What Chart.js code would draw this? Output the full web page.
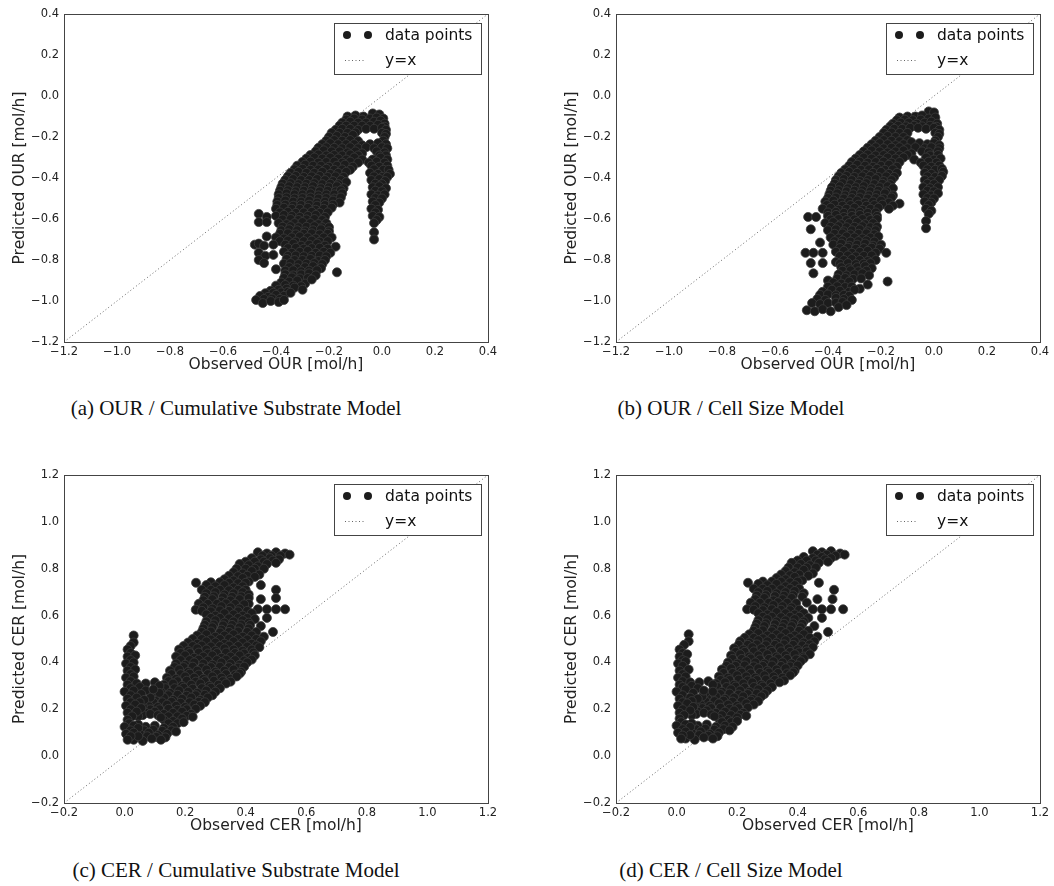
<!DOCTYPE html>
<html>
<head>
<meta charset="utf-8">
<title>Observed vs predicted OUR / CER</title>
<script src="https://cdn.jsdelivr.net/npm/chart.js@4"></script>
<style>
body { margin: 0; background: #fff; width: 1054px; height: 886px; position: relative; overflow: hidden; }
.panel { position: absolute; width: 527px; height: 380px; }
.caption { position: absolute; font-family: 'Liberation Serif', 'DejaVu Serif', serif; font-size: 21px; color: #111;
  transform: translateX(-50%); white-space: nowrap; line-height: 22px; }
</style>
</head>
<body>
<div class="panel" style="left:0;top:0"><canvas id="chartA" width="527" height="380"></canvas></div>
<div class="panel" style="left:552px;top:0"><canvas id="chartB" width="527" height="380"></canvas></div>
<div class="panel" style="left:0;top:461px"><canvas id="chartC" width="527" height="380"></canvas></div>
<div class="panel" style="left:552px;top:461px"><canvas id="chartD" width="527" height="380"></canvas></div>
<div class="caption" style="left:236px;top:397px">(a) OUR / Cumulative Substrate Model</div>
<div class="caption" style="left:731px;top:397px">(b) OUR / Cell Size Model</div>
<div class="caption" style="left:236px;top:859px">(c) CER / Cumulative Substrate Model</div>
<div class="caption" style="left:731px;top:859px">(d) CER / Cell Size Model</div>
<script>
// axis limits
const ourLimits = [-1.2, 0.4];
const cerLimits = [-0.2, 1.2];
const tickStep = 0.2;

// [observed, predicted] OUR, cumulative substrate model
const ourCumulative = [
	[-0.13,-0.10],[-0.10,-0.095],[-0.07,-0.10],[-0.035,-0.085],[-0.01,-0.09],
	[-0.135,-0.115],[-0.105,-0.11],[-0.075,-0.115],[-0.045,-0.11],[-0.02,-0.105],[0.005,-0.11],
	[-0.15,-0.13],[-0.12,-0.125],[-0.09,-0.13],[-0.06,-0.13],[-0.03,-0.125],[-0.005,-0.12],[0.01,-0.135],
	[-0.16,-0.145],[-0.135,-0.145],[-0.105,-0.145],[-0.075,-0.145],[-0.045,-0.145],[-0.015,-0.14],[0.01,-0.15],
	[-0.175,-0.165],[-0.15,-0.16],[-0.12,-0.16],[-0.09,-0.165],[-0.06,-0.16],[-0.03,-0.16],[0.0,-0.155],[0.015,-0.165],
	[-0.19,-0.18],[-0.16,-0.18],[-0.13,-0.18],[-0.10,-0.178],[0.0,-0.18],[0.015,-0.185],
	[-0.20,-0.20],[-0.17,-0.195],[-0.14,-0.20],[-0.11,-0.19],[0.01,-0.20],
	[-0.21,-0.218],[-0.18,-0.215],[-0.15,-0.218],[-0.12,-0.215],[-0.09,-0.22],[0.005,-0.218],
	[-0.225,-0.235],[-0.195,-0.23],[-0.165,-0.235],[-0.135,-0.235],[-0.105,-0.235],[-0.075,-0.24],[-0.045,-0.235],[-0.015,-0.23],[0.015,-0.235],
	[-0.24,-0.253],[-0.21,-0.25],[-0.18,-0.253],[-0.15,-0.255],[-0.12,-0.25],[-0.09,-0.255],[-0.06,-0.25],[-0.03,-0.255],[0.0,-0.25],[0.02,-0.255],
	[-0.25,-0.27],[-0.22,-0.265],[-0.19,-0.27],[-0.16,-0.27],[-0.13,-0.275],[-0.10,-0.27],[-0.075,-0.28],[-0.02,-0.27],[0.01,-0.275],
	[-0.27,-0.288],[-0.24,-0.285],[-0.21,-0.29],[-0.18,-0.288],[-0.15,-0.29],[-0.12,-0.285],[-0.09,-0.29],[-0.01,-0.29],[0.015,-0.29],
	[-0.285,-0.305],[-0.255,-0.30],[-0.225,-0.305],[-0.195,-0.30],[-0.165,-0.305],[-0.135,-0.31],[-0.105,-0.30],[-0.075,-0.31],[-0.035,-0.31],[-0.005,-0.30],[0.02,-0.31],
	[-0.30,-0.322],[-0.27,-0.32],[-0.24,-0.325],[-0.21,-0.322],[-0.18,-0.32],[-0.15,-0.325],[-0.12,-0.32],[-0.09,-0.325],[-0.05,-0.325],[-0.02,-0.32],[0.01,-0.325],
	[-0.32,-0.34],[-0.29,-0.335],[-0.26,-0.34],[-0.23,-0.34],[-0.20,-0.345],[-0.17,-0.34],[-0.14,-0.335],[-0.11,-0.345],[-0.04,-0.34],[-0.01,-0.345],[0.02,-0.34],
	[-0.33,-0.358],[-0.30,-0.355],[-0.27,-0.36],[-0.24,-0.358],[-0.21,-0.355],[-0.18,-0.36],[-0.15,-0.358],[-0.12,-0.36],[-0.03,-0.358],[0.005,-0.36],[0.025,-0.36],
	[-0.345,-0.375],[-0.315,-0.37],[-0.285,-0.375],[-0.255,-0.375],[-0.225,-0.37],[-0.195,-0.38],[-0.165,-0.375],[-0.135,-0.37],[-0.045,-0.375],[-0.015,-0.38],[0.03,-0.38],
	[-0.355,-0.392],[-0.325,-0.39],[-0.295,-0.395],[-0.265,-0.392],[-0.235,-0.39],[-0.205,-0.395],[-0.175,-0.392],[-0.145,-0.395],[-0.03,-0.392],[0.0,-0.395],[0.02,-0.395],
	[-0.365,-0.41],[-0.335,-0.405],[-0.305,-0.41],[-0.275,-0.41],[-0.245,-0.405],[-0.215,-0.41],[-0.185,-0.415],[-0.155,-0.41],[-0.135,-0.42],[-0.04,-0.41],[-0.01,-0.405],[0.012,-0.415],
	[-0.375,-0.428],[-0.345,-0.425],[-0.315,-0.43],[-0.285,-0.428],[-0.255,-0.425],[-0.225,-0.43],[-0.195,-0.428],[-0.165,-0.43],[-0.025,-0.428],[0.0,-0.43],
	[-0.38,-0.445],[-0.35,-0.44],[-0.32,-0.445],[-0.29,-0.445],[-0.26,-0.44],[-0.23,-0.45],[-0.20,-0.445],[-0.17,-0.44],[-0.145,-0.45],[-0.035,-0.445],[-0.01,-0.44],[0.015,-0.45],
	[-0.385,-0.462],[-0.355,-0.46],[-0.325,-0.465],[-0.295,-0.462],[-0.265,-0.46],[-0.235,-0.465],[-0.205,-0.462],[-0.175,-0.465],[-0.155,-0.46],[-0.025,-0.462],[0.0,-0.465],
	[-0.39,-0.48],[-0.36,-0.475],[-0.33,-0.48],[-0.30,-0.48],[-0.27,-0.475],[-0.24,-0.485],[-0.21,-0.48],[-0.18,-0.48],[-0.15,-0.475],[-0.04,-0.48],[-0.015,-0.485],[0.01,-0.48],
	[-0.39,-0.498],[-0.36,-0.495],[-0.33,-0.5],[-0.30,-0.498],[-0.27,-0.495],[-0.24,-0.5],[-0.21,-0.498],[-0.18,-0.5],[-0.155,-0.495],[-0.025,-0.498],[0.0,-0.5],
	[-0.395,-0.515],[-0.365,-0.51],[-0.335,-0.515],[-0.305,-0.515],[-0.275,-0.51],[-0.245,-0.52],[-0.215,-0.515],[-0.185,-0.51],[-0.16,-0.52],[-0.035,-0.515],[-0.01,-0.52],
	[-0.395,-0.532],[-0.365,-0.53],[-0.335,-0.535],[-0.305,-0.532],[-0.275,-0.53],[-0.245,-0.535],[-0.215,-0.532],[-0.185,-0.53],[-0.025,-0.532],
	[-0.40,-0.55],[-0.37,-0.545],[-0.34,-0.55],[-0.31,-0.55],[-0.28,-0.545],[-0.25,-0.555],[-0.22,-0.55],[-0.19,-0.545],[-0.04,-0.55],[-0.015,-0.555],
	[-0.385,-0.568],[-0.355,-0.565],[-0.325,-0.57],[-0.295,-0.568],[-0.265,-0.565],[-0.235,-0.57],[-0.205,-0.568],[-0.025,-0.568],
	[-0.465,-0.575],[-0.435,-0.59],[-0.40,-0.585],[-0.37,-0.58],[-0.34,-0.585],[-0.31,-0.59],[-0.28,-0.585],[-0.25,-0.58],[-0.215,-0.59],[-0.035,-0.585],[-0.01,-0.59],
	[-0.375,-0.602],[-0.345,-0.60],[-0.315,-0.605],[-0.285,-0.602],[-0.255,-0.60],[-0.225,-0.605],[-0.02,-0.605],
	[-0.465,-0.615],[-0.435,-0.615],[-0.39,-0.62],[-0.36,-0.625],[-0.33,-0.62],[-0.30,-0.615],[-0.27,-0.62],[-0.24,-0.625],[-0.21,-0.62],[-0.03,-0.62],
	[-0.375,-0.638],[-0.345,-0.635],[-0.315,-0.64],[-0.285,-0.638],[-0.255,-0.635],[-0.225,-0.64],[-0.20,-0.64],
	[-0.38,-0.655],[-0.35,-0.65],[-0.32,-0.655],[-0.29,-0.66],[-0.26,-0.655],[-0.23,-0.65],[-0.20,-0.66],[-0.03,-0.665],
	[-0.385,-0.672],[-0.355,-0.67],[-0.325,-0.675],[-0.295,-0.672],[-0.265,-0.67],[-0.235,-0.675],[-0.205,-0.672],
	[-0.435,-0.685],[-0.40,-0.69],[-0.37,-0.695],[-0.34,-0.69],[-0.31,-0.685],[-0.28,-0.69],[-0.25,-0.695],[-0.22,-0.69],[-0.19,-0.69],[-0.03,-0.70],
	[-0.385,-0.708],[-0.355,-0.705],[-0.325,-0.71],[-0.295,-0.708],[-0.265,-0.705],[-0.235,-0.71],[-0.205,-0.708],
	[-0.48,-0.725],[-0.465,-0.72],[-0.445,-0.73],[-0.41,-0.725],[-0.365,-0.725],[-0.335,-0.72],[-0.305,-0.73],[-0.275,-0.725],[-0.245,-0.72],[-0.215,-0.73],[-0.175,-0.735],
	[-0.355,-0.742],[-0.325,-0.74],[-0.295,-0.745],[-0.265,-0.742],[-0.235,-0.74],[-0.205,-0.745],
	[-0.465,-0.765],[-0.44,-0.78],[-0.41,-0.775],[-0.37,-0.76],[-0.34,-0.765],[-0.31,-0.76],[-0.28,-0.755],[-0.25,-0.765],[-0.22,-0.76],[-0.195,-0.765],
	[-0.355,-0.78],[-0.325,-0.778],[-0.295,-0.782],[-0.265,-0.78],[-0.235,-0.778],[-0.21,-0.782],
	[-0.465,-0.80],[-0.445,-0.815],[-0.36,-0.795],[-0.33,-0.80],[-0.30,-0.80],[-0.27,-0.795],[-0.24,-0.805],[-0.215,-0.80],
	[-0.37,-0.818],[-0.345,-0.815],[-0.315,-0.82],[-0.285,-0.818],[-0.255,-0.815],[-0.225,-0.82],
	[-0.40,-0.845],[-0.35,-0.835],[-0.32,-0.84],[-0.29,-0.835],[-0.26,-0.83],[-0.23,-0.84],
	[-0.365,-0.852],[-0.335,-0.85],[-0.305,-0.855],[-0.275,-0.852],[-0.245,-0.85],
	[-0.365,-0.87],[-0.335,-0.875],[-0.305,-0.87],[-0.275,-0.865],[-0.25,-0.875],[-0.17,-0.86],
	[-0.37,-0.888],[-0.34,-0.885],[-0.31,-0.89],[-0.28,-0.888],
	[-0.38,-0.91],[-0.35,-0.905],[-0.32,-0.90],[-0.29,-0.915],[-0.265,-0.895],
	[-0.40,-0.925],[-0.365,-0.922],[-0.335,-0.925],[-0.305,-0.928],
	[-0.42,-0.95],[-0.39,-0.945],[-0.36,-0.94],[-0.33,-0.935],[-0.30,-0.945],
	[-0.44,-0.962],[-0.41,-0.96],[-0.38,-0.958],[-0.355,-0.955],
	[-0.46,-0.975],[-0.43,-0.98],[-0.40,-0.97],[-0.37,-0.975],[-0.345,-0.96],
	[-0.445,-0.99],[-0.415,-0.988],[-0.385,-0.99],
	[-0.475,-0.995],[-0.45,-1.01],[-0.42,-1.0],[-0.39,-1.005],[-0.37,-0.995]
];

// [observed, predicted] OUR, cell size model
const ourCellSize = [
	[-0.02,-0.075],[0.0,-0.08],[-0.13,-0.105],[-0.10,-0.10],[-0.07,-0.10],[-0.045,-0.095],
	[-0.14,-0.118],[-0.11,-0.115],[-0.08,-0.118],[-0.05,-0.115],[-0.02,-0.11],[0.005,-0.105],
	[-0.155,-0.135],[-0.125,-0.13],[-0.095,-0.13],[-0.065,-0.135],[-0.035,-0.13],[-0.01,-0.125],[0.012,-0.135],
	[-0.165,-0.148],[-0.135,-0.145],[-0.105,-0.148],[-0.075,-0.145],[-0.045,-0.148],[-0.015,-0.145],[0.01,-0.15],
	[-0.18,-0.165],[-0.15,-0.16],[-0.12,-0.16],[-0.09,-0.155],[-0.06,-0.155],[-0.03,-0.16],[0.0,-0.155],[0.02,-0.165],
	[-0.19,-0.18],[-0.16,-0.178],[-0.13,-0.18],[-0.10,-0.18],[0.005,-0.18],[0.02,-0.185],
	[-0.205,-0.20],[-0.175,-0.195],[-0.145,-0.20],[-0.115,-0.20],[0.015,-0.20],
	[-0.22,-0.218],[-0.19,-0.215],[-0.16,-0.218],[-0.13,-0.22],[-0.10,-0.215],[0.005,-0.218],
	[-0.235,-0.235],[-0.205,-0.23],[-0.175,-0.235],[-0.145,-0.24],[-0.115,-0.235],[-0.085,-0.225],[-0.055,-0.23],[-0.025,-0.235],[0.0,-0.23],[0.02,-0.24],
	[-0.25,-0.252],[-0.22,-0.25],[-0.19,-0.255],[-0.16,-0.252],[-0.13,-0.25],[-0.10,-0.255],[-0.07,-0.25],[-0.035,-0.255],[-0.01,-0.25],[0.02,-0.255],
	[-0.265,-0.27],[-0.235,-0.265],[-0.205,-0.27],[-0.175,-0.275],[-0.145,-0.27],[-0.115,-0.265],[-0.085,-0.28],[-0.045,-0.27],[-0.02,-0.275],[0.015,-0.27],
	[-0.28,-0.288],[-0.25,-0.285],[-0.22,-0.29],[-0.19,-0.288],[-0.16,-0.285],[-0.13,-0.29],[-0.10,-0.288],[-0.015,-0.29],[0.015,-0.288],
	[-0.295,-0.305],[-0.265,-0.30],[-0.235,-0.305],[-0.205,-0.31],[-0.175,-0.30],[-0.145,-0.305],[-0.115,-0.30],[-0.075,-0.31],[-0.03,-0.30],[0.0,-0.31],[0.025,-0.305],
	[-0.31,-0.322],[-0.28,-0.32],[-0.25,-0.325],[-0.22,-0.322],[-0.19,-0.32],[-0.16,-0.325],[-0.13,-0.322],[-0.05,-0.325],[-0.02,-0.32],[0.01,-0.325],
	[-0.32,-0.34],[-0.29,-0.335],[-0.26,-0.34],[-0.23,-0.345],[-0.20,-0.34],[-0.17,-0.335],[-0.14,-0.345],[-0.04,-0.34],[-0.01,-0.345],[0.02,-0.34],
	[-0.335,-0.358],[-0.305,-0.355],[-0.275,-0.36],[-0.245,-0.358],[-0.215,-0.355],[-0.185,-0.36],[-0.155,-0.358],[-0.025,-0.358],[0.005,-0.36],[0.03,-0.355],
	[-0.35,-0.375],[-0.32,-0.37],[-0.29,-0.375],[-0.26,-0.38],[-0.23,-0.375],[-0.20,-0.37],[-0.17,-0.38],[-0.14,-0.375],[-0.035,-0.375],[-0.01,-0.38],[0.035,-0.37],
	[-0.36,-0.392],[-0.33,-0.39],[-0.30,-0.395],[-0.27,-0.392],[-0.24,-0.39],[-0.21,-0.395],[-0.18,-0.392],[-0.15,-0.395],[-0.025,-0.392],[0.005,-0.395],[0.03,-0.39],
	[-0.37,-0.41],[-0.34,-0.405],[-0.31,-0.41],[-0.28,-0.415],[-0.25,-0.41],[-0.22,-0.405],[-0.19,-0.415],[-0.16,-0.41],[-0.035,-0.41],[-0.01,-0.415],[0.02,-0.41],
	[-0.375,-0.428],[-0.345,-0.425],[-0.315,-0.43],[-0.285,-0.428],[-0.255,-0.425],[-0.225,-0.43],[-0.195,-0.428],[-0.165,-0.43],[-0.025,-0.428],[0.0,-0.43],
	[-0.385,-0.445],[-0.355,-0.44],[-0.325,-0.45],[-0.295,-0.445],[-0.265,-0.44],[-0.235,-0.45],[-0.205,-0.445],[-0.175,-0.44],[-0.155,-0.45],[-0.04,-0.445],[-0.015,-0.45],[0.015,-0.445],
	[-0.39,-0.462],[-0.36,-0.46],[-0.33,-0.465],[-0.30,-0.462],[-0.27,-0.46],[-0.24,-0.465],[-0.21,-0.462],[-0.18,-0.465],[-0.025,-0.462],[0.0,-0.465],
	[-0.395,-0.48],[-0.365,-0.475],[-0.335,-0.485],[-0.305,-0.48],[-0.275,-0.475],[-0.245,-0.485],[-0.215,-0.48],[-0.185,-0.475],[-0.155,-0.485],[-0.04,-0.48],[-0.01,-0.485],[0.015,-0.475],
	[-0.40,-0.498],[-0.37,-0.495],[-0.34,-0.5],[-0.31,-0.498],[-0.28,-0.495],[-0.25,-0.5],[-0.22,-0.498],[-0.19,-0.5],[-0.16,-0.495],[-0.025,-0.498],[0.0,-0.5],
	[-0.41,-0.515],[-0.38,-0.51],[-0.35,-0.52],[-0.32,-0.515],[-0.29,-0.51],[-0.26,-0.52],[-0.23,-0.515],[-0.20,-0.51],[-0.17,-0.52],[-0.13,-0.525],[-0.035,-0.515],[-0.01,-0.52],
	[-0.405,-0.532],[-0.375,-0.53],[-0.345,-0.535],[-0.315,-0.532],[-0.285,-0.53],[-0.255,-0.535],[-0.225,-0.532],[-0.195,-0.53],[-0.155,-0.535],[-0.02,-0.532],
	[-0.42,-0.55],[-0.39,-0.545],[-0.36,-0.555],[-0.33,-0.55],[-0.30,-0.545],[-0.27,-0.555],[-0.24,-0.55],[-0.21,-0.545],[-0.17,-0.55],[-0.03,-0.55],[-0.01,-0.56],
	[-0.40,-0.568],[-0.37,-0.565],[-0.34,-0.57],[-0.31,-0.568],[-0.28,-0.565],[-0.25,-0.57],[-0.22,-0.568],[-0.02,-0.575],
	[-0.475,-0.59],[-0.445,-0.59],[-0.40,-0.585],[-0.37,-0.58],[-0.34,-0.59],[-0.31,-0.585],[-0.28,-0.58],[-0.25,-0.59],[-0.215,-0.585],[-0.03,-0.61],
	[-0.39,-0.602],[-0.36,-0.60],[-0.33,-0.605],[-0.30,-0.602],[-0.27,-0.60],[-0.24,-0.605],[-0.215,-0.60],
	[-0.41,-0.62],[-0.38,-0.615],[-0.35,-0.625],[-0.32,-0.62],[-0.29,-0.615],[-0.26,-0.625],[-0.23,-0.62],[-0.03,-0.645],
	[-0.39,-0.638],[-0.36,-0.635],[-0.33,-0.64],[-0.30,-0.638],[-0.27,-0.635],[-0.24,-0.64],[-0.215,-0.638],
	[-0.465,-0.65],[-0.40,-0.655],[-0.37,-0.65],[-0.34,-0.66],[-0.31,-0.655],[-0.28,-0.65],[-0.25,-0.66],[-0.22,-0.655],
	[-0.375,-0.672],[-0.345,-0.67],[-0.315,-0.675],[-0.285,-0.672],[-0.255,-0.67],[-0.225,-0.675],
	[-0.39,-0.69],[-0.36,-0.695],[-0.33,-0.685],[-0.30,-0.69],[-0.27,-0.695],[-0.24,-0.69],[-0.21,-0.685],
	[-0.375,-0.708],[-0.345,-0.705],[-0.315,-0.71],[-0.285,-0.708],[-0.255,-0.705],[-0.225,-0.71],
	[-0.43,-0.715],[-0.38,-0.725],[-0.35,-0.72],[-0.32,-0.73],[-0.29,-0.725],[-0.26,-0.72],[-0.23,-0.73],[-0.20,-0.725],
	[-0.355,-0.742],[-0.325,-0.74],[-0.295,-0.745],[-0.265,-0.742],[-0.235,-0.74],[-0.205,-0.745],
	[-0.485,-0.765],[-0.455,-0.765],[-0.42,-0.765],[-0.37,-0.76],[-0.34,-0.755],[-0.31,-0.765],[-0.28,-0.76],[-0.25,-0.755],[-0.22,-0.765],[-0.18,-0.765],
	[-0.355,-0.78],[-0.325,-0.778],[-0.295,-0.782],[-0.265,-0.78],[-0.235,-0.778],
	[-0.465,-0.815],[-0.42,-0.815],[-0.37,-0.81],[-0.34,-0.80],[-0.31,-0.795],[-0.28,-0.80],[-0.25,-0.805],[-0.22,-0.80],
	[-0.355,-0.818],[-0.325,-0.815],[-0.295,-0.82],[-0.265,-0.818],[-0.24,-0.815],
	[-0.455,-0.865],[-0.35,-0.835],[-0.32,-0.84],[-0.29,-0.835],[-0.26,-0.83],[-0.235,-0.84],
	[-0.345,-0.852],[-0.315,-0.85],[-0.285,-0.855],[-0.255,-0.852],
	[-0.40,-0.90],[-0.36,-0.87],[-0.33,-0.875],[-0.30,-0.87],[-0.27,-0.865],[-0.245,-0.875],[-0.175,-0.905],
	[-0.365,-0.89],[-0.335,-0.888],[-0.305,-0.892],[-0.275,-0.89],
	[-0.38,-0.91],[-0.35,-0.915],[-0.32,-0.905],[-0.28,-0.94],[-0.25,-0.92],
	[-0.40,-0.93],[-0.365,-0.928],[-0.335,-0.932],[-0.31,-0.93],
	[-0.42,-0.955],[-0.385,-0.945],[-0.355,-0.95],[-0.32,-0.955],[-0.30,-0.945],
	[-0.43,-0.97],[-0.40,-0.968],[-0.37,-0.972],[-0.34,-0.97],[-0.32,-0.975],
	[-0.44,-0.99],[-0.41,-0.995],[-0.37,-0.985],[-0.34,-0.99],[-0.31,-0.995],
	[-0.46,-1.01],[-0.43,-1.015],[-0.40,-1.01],[-0.37,-1.008],[-0.345,-1.005],
	[-0.48,-1.045],[-0.45,-1.05],[-0.42,-1.04],[-0.39,-1.05],[-0.36,-1.03],[-0.33,-1.02]
];

// [observed, predicted] CER, cumulative substrate model
const cerCumulative = [
	[0.44,0.87],[0.47,0.865],[0.50,0.87],[0.53,0.865],[0.545,0.86],
	[0.455,0.855],[0.485,0.855],[0.515,0.855],
	[0.42,0.845],[0.45,0.84],[0.48,0.845],[0.51,0.84],
	[0.40,0.83],[0.43,0.83],[0.46,0.83],[0.49,0.835],
	[0.38,0.82],[0.41,0.815],[0.44,0.81],[0.47,0.82],[0.50,0.825],
	[0.37,0.80],[0.40,0.80],[0.43,0.80],[0.46,0.80],
	[0.36,0.785],[0.39,0.78],[0.42,0.79],[0.445,0.775],
	[0.345,0.77],[0.375,0.768],[0.405,0.77],[0.43,0.765],
	[0.33,0.755],[0.36,0.75],[0.39,0.76],[0.41,0.745],
	[0.285,0.742],[0.315,0.742],[0.345,0.74],[0.375,0.738],[0.40,0.74],
	[0.236,0.74],[0.27,0.73],[0.30,0.725],[0.33,0.73],[0.36,0.72],[0.39,0.725],[0.45,0.73],[0.50,0.71],
	[0.255,0.71],[0.285,0.71],[0.315,0.71],[0.345,0.708],[0.375,0.71],[0.40,0.71],
	[0.27,0.695],[0.30,0.70],[0.33,0.69],[0.36,0.695],[0.39,0.70],[0.41,0.69],[0.50,0.675],
	[0.265,0.68],[0.295,0.682],[0.325,0.678],[0.355,0.68],[0.385,0.682],[0.41,0.675],
	[0.26,0.665],[0.29,0.67],[0.32,0.66],[0.35,0.665],[0.38,0.67],[0.41,0.65],[0.45,0.67],
	[0.245,0.65],[0.275,0.65],[0.305,0.65],[0.335,0.652],[0.365,0.65],[0.395,0.648],
	[0.235,0.625],[0.26,0.635],[0.29,0.63],[0.32,0.64],[0.35,0.635],[0.38,0.63],[0.44,0.627],[0.47,0.627],[0.50,0.627],[0.53,0.627],
	[0.255,0.62],[0.285,0.618],[0.315,0.622],[0.345,0.62],[0.375,0.618],[0.405,0.62],
	[0.27,0.605],[0.30,0.60],[0.33,0.61],[0.36,0.605],[0.39,0.60],[0.42,0.61],
	[0.285,0.59],[0.315,0.59],[0.345,0.588],[0.375,0.59],[0.405,0.59],[0.43,0.585],
	[0.27,0.575],[0.30,0.58],[0.33,0.57],[0.36,0.575],[0.39,0.58],[0.41,0.57],[0.47,0.59],
	[0.265,0.56],[0.295,0.562],[0.325,0.558],[0.355,0.56],[0.385,0.562],[0.415,0.56],
	[0.26,0.545],[0.29,0.55],[0.32,0.54],[0.35,0.545],[0.38,0.55],[0.41,0.545],[0.45,0.555],
	[0.255,0.53],[0.285,0.532],[0.315,0.528],[0.345,0.53],[0.375,0.532],[0.405,0.53],[0.435,0.53],
	[0.24,0.515],[0.27,0.52],[0.30,0.51],[0.33,0.515],[0.36,0.52],[0.39,0.51],[0.42,0.515],[0.46,0.51],[0.49,0.53],
	[0.225,0.50],[0.255,0.50],[0.285,0.498],[0.315,0.50],[0.345,0.502],[0.375,0.50],[0.405,0.498],[0.435,0.50],
	[0.21,0.485],[0.24,0.48],[0.27,0.49],[0.30,0.485],[0.33,0.48],[0.36,0.49],[0.39,0.485],[0.42,0.48],[0.45,0.49],
	[0.195,0.47],[0.225,0.47],[0.255,0.472],[0.285,0.468],[0.315,0.47],[0.345,0.472],[0.375,0.47],[0.405,0.468],[0.435,0.472],
	[0.18,0.455],[0.21,0.45],[0.24,0.46],[0.27,0.455],[0.30,0.45],[0.33,0.46],[0.36,0.455],[0.39,0.45],[0.42,0.455],[0.445,0.465],
	[0.185,0.44],[0.215,0.44],[0.245,0.442],[0.275,0.438],[0.305,0.44],[0.335,0.442],[0.365,0.44],[0.395,0.438],[0.425,0.442],
	[0.17,0.425],[0.20,0.43],[0.23,0.42],[0.26,0.425],[0.29,0.43],[0.32,0.42],[0.35,0.425],[0.38,0.43],[0.41,0.42],[0.43,0.43],
	[0.185,0.41],[0.215,0.41],[0.245,0.412],[0.275,0.408],[0.305,0.41],[0.335,0.412],[0.365,0.41],[0.395,0.408],[0.42,0.412],
	[0.17,0.395],[0.20,0.39],[0.23,0.40],[0.26,0.395],[0.29,0.39],[0.32,0.40],[0.35,0.395],[0.38,0.39],[0.405,0.40],
	[0.165,0.38],[0.195,0.38],[0.225,0.382],[0.255,0.378],[0.285,0.38],[0.315,0.382],[0.345,0.38],[0.375,0.378],[0.395,0.382],
	[0.15,0.365],[0.18,0.37],[0.21,0.36],[0.24,0.365],[0.27,0.37],[0.30,0.36],[0.33,0.365],[0.36,0.37],[0.385,0.36],
	[0.155,0.35],[0.185,0.35],[0.215,0.352],[0.245,0.348],[0.275,0.35],[0.305,0.352],[0.335,0.35],[0.365,0.348],[0.38,0.352],
	[0.14,0.335],[0.17,0.33],[0.20,0.34],[0.23,0.335],[0.26,0.33],[0.29,0.34],[0.32,0.335],[0.35,0.33],[0.37,0.34],
	[0.145,0.32],[0.175,0.32],[0.205,0.322],[0.235,0.318],[0.265,0.32],[0.295,0.322],[0.325,0.32],[0.35,0.318],
	[0.13,0.305],[0.16,0.31],[0.19,0.30],[0.22,0.305],[0.25,0.31],[0.28,0.30],[0.31,0.305],[0.335,0.31],
	[0.135,0.29],[0.165,0.29],[0.195,0.292],[0.225,0.288],[0.255,0.29],[0.285,0.292],[0.315,0.29],
	[0.12,0.275],[0.15,0.27],[0.18,0.28],[0.21,0.275],[0.24,0.27],[0.27,0.28],[0.30,0.275],
	[0.115,0.26],[0.145,0.26],[0.175,0.262],[0.205,0.258],[0.235,0.26],[0.265,0.262],[0.29,0.26],
	[0.10,0.245],[0.13,0.25],[0.16,0.24],[0.19,0.245],[0.22,0.25],[0.25,0.24],[0.275,0.25],
	[0.095,0.23],[0.125,0.23],[0.155,0.232],[0.185,0.228],[0.215,0.23],[0.245,0.232],[0.265,0.23],
	[0.08,0.215],[0.11,0.21],[0.14,0.22],[0.17,0.215],[0.20,0.21],[0.23,0.22],[0.25,0.215],
	[0.085,0.20],[0.115,0.20],[0.145,0.202],[0.175,0.198],[0.205,0.20],[0.235,0.202],
	[0.07,0.185],[0.10,0.19],[0.13,0.18],[0.16,0.185],[0.19,0.19],[0.22,0.18],
	[0.145,0.17],[0.175,0.17],[0.205,0.172],[0.225,0.168],
	[0.13,0.155],[0.16,0.15],[0.19,0.16],
	[0.145,0.14],[0.175,0.14],[0.195,0.145],
	[0.07,0.125],[0.10,0.13],[0.13,0.12],[0.16,0.125],
	[0.065,0.11],[0.095,0.112],[0.125,0.108],[0.155,0.11],
	[0.05,0.095],[0.08,0.10],[0.11,0.09],[0.14,0.095],
	[0.045,0.082],[0.075,0.085],[0.105,0.082],[0.135,0.08],
	[0.03,0.07],[0.06,0.065],[0.09,0.075],[0.12,0.07],
	[0.07,0.31],[0.10,0.315],[0.115,0.30],[0.09,0.265],[0.115,0.27],[0.085,0.25],[0.06,0.215],
	[0.06,0.175],[0.085,0.18],[0.11,0.175],[0.045,0.17],[0.12,0.165],[0.045,0.135],[0.17,0.105],
	[0.03,0.515],[0.03,0.485],[0.02,0.47],[0.01,0.455],[0.02,0.44],[0.01,0.425],[0.035,0.43],[0.02,0.41],[0.005,0.395],[0.03,0.40],
	[0.02,0.38],[0.01,0.365],[0.035,0.37],[0.02,0.35],[0.005,0.335],[0.03,0.34],[0.02,0.32],[0.01,0.305],[0.04,0.31],
	[0.02,0.29],[0.05,0.295],[0.0,0.275],[0.03,0.28],[0.07,0.28],[0.095,0.285],[0.02,0.26],[0.055,0.265],
	[0.01,0.245],[0.04,0.25],[0.065,0.24],[0.02,0.23],[0.05,0.23],[0.005,0.215],[0.035,0.22],[0.02,0.20],[0.055,0.205],
	[0.01,0.185],[0.04,0.19],[0.025,0.17],[0.01,0.155],[0.015,0.14],[0.0,0.125],[0.03,0.13],[0.045,0.12],[0.02,0.11],
	[0.005,0.095],[0.03,0.10],[0.045,0.085],[0.02,0.085],[0.01,0.07]
];

// [observed, predicted] CER, cell size model
const cerCellSize = [
	[0.45,0.875],[0.48,0.87],[0.51,0.875],[0.54,0.865],[0.555,0.86],
	[0.465,0.86],[0.495,0.86],[0.525,0.855],
	[0.42,0.85],[0.45,0.845],[0.48,0.85],[0.51,0.845],
	[0.40,0.835],[0.43,0.835],[0.46,0.835],[0.49,0.84],
	[0.38,0.825],[0.41,0.82],[0.44,0.815],[0.47,0.825],[0.50,0.83],
	[0.37,0.805],[0.40,0.805],[0.43,0.805],[0.46,0.805],
	[0.36,0.79],[0.39,0.785],[0.42,0.795],[0.45,0.78],
	[0.345,0.775],[0.375,0.772],[0.405,0.775],[0.435,0.77],
	[0.33,0.76],[0.36,0.755],[0.39,0.765],[0.415,0.75],
	[0.285,0.745],[0.315,0.745],[0.345,0.745],[0.375,0.742],[0.40,0.745],
	[0.236,0.74],[0.27,0.735],[0.30,0.73],[0.33,0.735],[0.36,0.725],[0.39,0.73],[0.47,0.74],[0.52,0.71],
	[0.255,0.715],[0.285,0.715],[0.315,0.715],[0.345,0.712],[0.375,0.715],[0.405,0.715],
	[0.27,0.70],[0.30,0.705],[0.33,0.695],[0.36,0.70],[0.39,0.705],[0.42,0.695],[0.515,0.67],
	[0.265,0.685],[0.295,0.687],[0.325,0.683],[0.355,0.685],[0.385,0.687],[0.415,0.68],
	[0.26,0.67],[0.29,0.675],[0.32,0.665],[0.35,0.67],[0.38,0.675],[0.43,0.655],[0.465,0.67],
	[0.245,0.655],[0.275,0.655],[0.305,0.655],[0.335,0.657],[0.365,0.655],[0.395,0.653],
	[0.233,0.627],[0.26,0.64],[0.29,0.635],[0.32,0.645],[0.35,0.64],[0.38,0.635],[0.45,0.627],[0.48,0.627],[0.51,0.627],[0.55,0.627],
	[0.255,0.625],[0.285,0.623],[0.315,0.627],[0.345,0.625],[0.375,0.623],[0.405,0.625],
	[0.27,0.61],[0.30,0.605],[0.33,0.615],[0.36,0.61],[0.39,0.605],[0.42,0.61],
	[0.285,0.595],[0.315,0.595],[0.345,0.593],[0.375,0.595],[0.405,0.595],[0.435,0.59],
	[0.27,0.58],[0.30,0.585],[0.33,0.575],[0.36,0.58],[0.39,0.585],[0.42,0.575],[0.48,0.59],
	[0.265,0.565],[0.295,0.567],[0.325,0.563],[0.355,0.565],[0.385,0.567],[0.415,0.565],
	[0.26,0.55],[0.29,0.555],[0.32,0.545],[0.35,0.55],[0.38,0.555],[0.41,0.55],[0.455,0.555],
	[0.255,0.535],[0.285,0.537],[0.315,0.533],[0.345,0.535],[0.375,0.537],[0.405,0.535],[0.435,0.535],
	[0.24,0.52],[0.27,0.525],[0.30,0.515],[0.33,0.52],[0.36,0.525],[0.39,0.515],[0.42,0.52],[0.465,0.51],[0.50,0.53],
	[0.225,0.505],[0.255,0.505],[0.285,0.503],[0.315,0.505],[0.345,0.507],[0.375,0.505],[0.405,0.503],[0.44,0.505],
	[0.21,0.49],[0.24,0.485],[0.27,0.495],[0.30,0.49],[0.33,0.485],[0.36,0.495],[0.39,0.49],[0.42,0.485],[0.455,0.49],
	[0.205,0.475],[0.235,0.475],[0.265,0.477],[0.295,0.473],[0.325,0.475],[0.355,0.477],[0.385,0.475],[0.415,0.473],[0.44,0.477],
	[0.19,0.46],[0.22,0.455],[0.25,0.465],[0.28,0.46],[0.31,0.455],[0.34,0.465],[0.37,0.46],[0.40,0.455],[0.43,0.46],[0.45,0.465],
	[0.195,0.445],[0.225,0.445],[0.255,0.447],[0.285,0.443],[0.315,0.445],[0.345,0.447],[0.375,0.445],[0.405,0.443],[0.43,0.447],
	[0.18,0.43],[0.21,0.435],[0.24,0.425],[0.27,0.43],[0.30,0.435],[0.33,0.425],[0.36,0.43],[0.39,0.435],[0.42,0.425],[0.44,0.435],
	[0.185,0.415],[0.215,0.415],[0.245,0.417],[0.275,0.413],[0.305,0.415],[0.335,0.417],[0.365,0.415],[0.395,0.413],[0.42,0.417],
	[0.17,0.40],[0.20,0.395],[0.23,0.405],[0.26,0.40],[0.29,0.395],[0.32,0.405],[0.35,0.40],[0.38,0.395],[0.41,0.405],
	[0.165,0.385],[0.195,0.385],[0.225,0.387],[0.255,0.383],[0.285,0.385],[0.315,0.387],[0.345,0.385],[0.375,0.383],[0.40,0.387],
	[0.15,0.37],[0.18,0.375],[0.21,0.365],[0.24,0.37],[0.27,0.375],[0.30,0.365],[0.33,0.37],[0.36,0.375],[0.39,0.365],
	[0.155,0.355],[0.185,0.355],[0.215,0.357],[0.245,0.353],[0.275,0.355],[0.305,0.357],[0.335,0.355],[0.365,0.353],[0.385,0.357],
	[0.14,0.34],[0.17,0.335],[0.20,0.345],[0.23,0.34],[0.26,0.335],[0.29,0.345],[0.32,0.34],[0.35,0.335],[0.375,0.345],
	[0.145,0.325],[0.175,0.325],[0.205,0.327],[0.235,0.323],[0.265,0.325],[0.295,0.327],[0.325,0.325],[0.355,0.323],
	[0.13,0.31],[0.16,0.315],[0.19,0.305],[0.22,0.31],[0.25,0.315],[0.28,0.305],[0.31,0.31],[0.34,0.315],
	[0.135,0.295],[0.165,0.295],[0.195,0.297],[0.225,0.293],[0.255,0.295],[0.285,0.297],[0.315,0.295],
	[0.12,0.28],[0.15,0.275],[0.18,0.285],[0.21,0.28],[0.24,0.275],[0.27,0.285],[0.30,0.28],
	[0.115,0.265],[0.145,0.265],[0.175,0.267],[0.205,0.263],[0.235,0.265],[0.265,0.267],[0.29,0.265],
	[0.10,0.25],[0.13,0.255],[0.16,0.245],[0.19,0.25],[0.22,0.255],[0.25,0.245],[0.28,0.255],
	[0.095,0.235],[0.125,0.235],[0.155,0.237],[0.185,0.233],[0.215,0.235],[0.245,0.237],[0.27,0.235],
	[0.08,0.22],[0.11,0.215],[0.14,0.225],[0.17,0.22],[0.20,0.215],[0.23,0.225],[0.255,0.22],
	[0.085,0.205],[0.115,0.205],[0.145,0.207],[0.175,0.203],[0.205,0.205],[0.235,0.207],
	[0.07,0.19],[0.10,0.195],[0.13,0.185],[0.16,0.19],[0.19,0.195],[0.22,0.185],
	[0.15,0.175],[0.18,0.175],[0.21,0.177],[0.23,0.172],
	[0.14,0.16],[0.17,0.155],[0.20,0.165],
	[0.15,0.145],[0.18,0.145],[0.20,0.15],
	[0.07,0.13],[0.10,0.135],[0.13,0.125],[0.16,0.13],[0.185,0.125],
	[0.065,0.115],[0.095,0.117],[0.125,0.113],[0.155,0.115],
	[0.05,0.10],[0.08,0.105],[0.11,0.095],[0.14,0.10],
	[0.045,0.087],[0.075,0.09],[0.105,0.087],[0.135,0.085],
	[0.03,0.075],[0.06,0.07],[0.09,0.08],[0.12,0.075],
	[0.075,0.315],[0.105,0.32],[0.12,0.305],[0.095,0.27],[0.12,0.275],[0.085,0.255],[0.06,0.22],
	[0.065,0.18],[0.09,0.185],[0.115,0.178],[0.05,0.175],[0.125,0.17],[0.05,0.14],[0.175,0.11],
	[0.04,0.52],[0.04,0.49],[0.025,0.475],[0.01,0.455],[0.02,0.44],[0.01,0.425],[0.035,0.435],[0.02,0.41],[0.005,0.395],[0.03,0.405],
	[0.02,0.385],[0.01,0.365],[0.04,0.37],[0.02,0.35],[0.005,0.335],[0.03,0.34],[0.02,0.32],[0.01,0.305],[0.045,0.315],
	[0.02,0.295],[0.05,0.30],[0.0,0.275],[0.03,0.285],[0.07,0.29],[0.09,0.28],[0.02,0.26],[0.055,0.27],
	[0.01,0.245],[0.045,0.25],[0.07,0.245],[0.02,0.23],[0.05,0.235],[0.005,0.215],[0.035,0.225],[0.02,0.20],[0.055,0.21],
	[0.01,0.185],[0.045,0.195],[0.025,0.175],[0.01,0.16],[0.015,0.145],[0.0,0.13],[0.03,0.135],[0.045,0.125],[0.02,0.115],
	[0.005,0.10],[0.03,0.105],[0.045,0.09],[0.02,0.088],[0.015,0.075]
];

const fontSans = 'DejaVu Sans';

function tickLabel(v) {
	const r = Math.round(v * 10) / 10;
	return (r < 0 ? '\u2212' : '') + Math.abs(r).toFixed(1);
}

// frame around the plot area and a matplotlib-like legend box
const frameAndLegend = {
	id: 'frameAndLegend',
	afterDatasetsDraw(chart) {
		const { ctx, chartArea: a } = chart;
		ctx.save();
		ctx.strokeStyle = '#444';
		ctx.lineWidth = 1;
		ctx.strokeRect(Math.round(a.left) + 0.5, Math.round(a.top) + 0.5, Math.round(a.right - a.left), Math.round(a.bottom - a.top));
		ctx.restore();
	},
	afterDraw(chart) {
		const { ctx, chartArea: a } = chart;
		const pts = chart.data.datasets[0];
		const line = chart.data.datasets[1];
		const w = 147, h = 51;
		const x0 = Math.round(a.right - 7 - w), y0 = Math.round(a.top + 9);
		ctx.save();
		ctx.fillStyle = '#fff';
		ctx.fillRect(x0, y0, w, h);
		ctx.strokeStyle = '#444';
		ctx.lineWidth = 1;
		ctx.strokeRect(x0 + 0.5, y0 + 0.5, w, h);
		[13, 34].forEach(dx => {
			ctx.beginPath();
			ctx.arc(x0 + dx, y0 + 12, 4, 0, Math.PI * 2);
			ctx.fillStyle = pts.backgroundColor;
			ctx.fill();
		});
		ctx.beginPath();
		ctx.setLineDash(line.borderDash);
		ctx.strokeStyle = line.borderColor;
		ctx.moveTo(x0 + 11, y0 + 37.5);
		ctx.lineTo(x0 + 32, y0 + 37.5);
		ctx.stroke();
		ctx.setLineDash([]);
		ctx.fillStyle = '#111';
		ctx.font = '15.5px "' + fontSans + '"';
		ctx.textBaseline = 'middle';
		ctx.fillText(pts.label, x0 + 51, y0 + 13);
		ctx.fillText(line.label, x0 + 51, y0 + 38);
		ctx.restore();
	}
};

function axis(limits, title, isY) {
	return {
		type: 'linear',
		min: limits[0],
		max: limits[1],
		grid: { display: false, drawTicks: false },
		border: { display: false },
		ticks: {
			stepSize: tickStep,
			autoSkip: false,
			maxRotation: 0,
			padding: isY ? 5 : 3,
			color: '#222',
			font: { family: fontSans, size: 11.5 },
			callback: tickLabel
		},
		title: {
			display: true,
			text: title,
			color: '#222',
			font: { family: fontSans, size: 15.5 },
			padding: isY ? { top: 11, bottom: 0 } : { top: 0, bottom: 4 }
		},
		afterFit(scale) {
			if (isY) scale.width = 64; else scale.height = 36;
		}
	};
}

function drawPanel(canvasId, points, limits, xTitle, yTitle) {
	new Chart(document.getElementById(canvasId), {
		type: 'scatter',
		data: {
			datasets: [{
				label: 'data points',
				data: points.map(p => ({ x: p[0], y: p[1] })),
				backgroundColor: '#1c1c1c',
				borderColor: '#3c3c3c',
				borderWidth: 0.8,
				pointRadius: 4.5
			}, {
				type: 'line',
				label: 'y=x',
				data: [{ x: limits[0], y: limits[0] }, { x: limits[1], y: limits[1] }],
				showLine: true,
				borderColor: '#666',
				borderWidth: 1,
				borderDash: [1, 2.5],
				pointRadius: 0,
				fill: false
			}]
		},
		options: {
			responsive: false,
			animation: false,
			layout: { padding: { left: 0, right: 39, top: 14, bottom: 2 } },
			plugins: { legend: { display: false }, tooltip: { enabled: false } },
			scales: {
				x: axis(limits, xTitle, false),
				y: axis(limits, yTitle, true)
			}
		},
		plugins: [frameAndLegend]
	});
}

drawPanel('chartA', ourCumulative, ourLimits, 'Observed OUR [mol/h]', 'Predicted OUR [mol/h]');
drawPanel('chartB', ourCellSize, ourLimits, 'Observed OUR [mol/h]', 'Predicted OUR [mol/h]');
drawPanel('chartC', cerCumulative, cerLimits, 'Observed CER [mol/h]', 'Predicted CER [mol/h]');
drawPanel('chartD', cerCellSize, cerLimits, 'Observed CER [mol/h]', 'Predicted CER [mol/h]');
</script>
</body>
</html>
